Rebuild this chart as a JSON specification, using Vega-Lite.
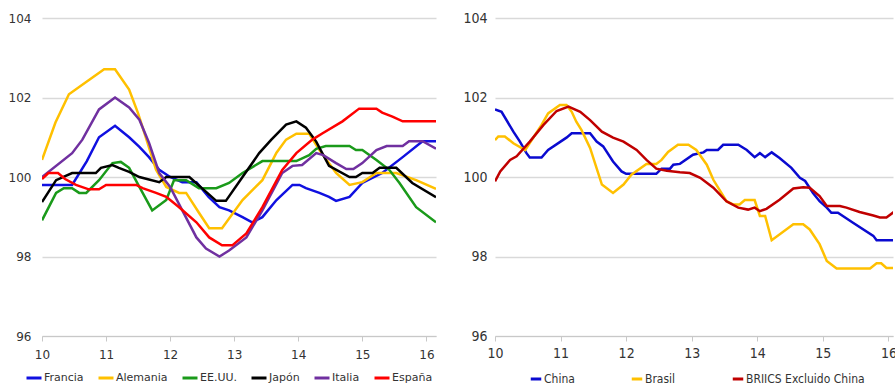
{
  "$schema": "https://vega.github.io/schema/vega-lite/v6.json",
  "background": "white",
  "padding": {"left": 8, "top": 11, "right": 0, "bottom": 0},
  "config": {
    "view": {"stroke": null},
    "axis": {"labelColor": "#333333", "title": null},
    "legend": {"padding": 0, "title": null}
  },
  "datasets": {
    "left": [
      {"t":10,"v":99.8,"s":"Francia"},{"t":10.47,"v":99.8,"s":"Francia"},{"t":10.7,"v":100.4,"s":"Francia"},{"t":10.89,"v":101.0,"s":"Francia"},{"t":11.14,"v":101.29,"s":"Francia"},{"t":11.36,"v":101.0,"s":"Francia"},{"t":11.52,"v":100.76,"s":"Francia"},{"t":11.67,"v":100.5,"s":"Francia"},{"t":11.83,"v":100.18,"s":"Francia"},{"t":12.0,"v":100.0,"s":"Francia"},{"t":12.19,"v":99.87,"s":"Francia"},{"t":12.41,"v":99.87,"s":"Francia"},{"t":12.6,"v":99.5,"s":"Francia"},{"t":12.77,"v":99.24,"s":"Francia"},{"t":12.92,"v":99.16,"s":"Francia"},{"t":13.13,"v":98.99,"s":"Francia"},{"t":13.28,"v":98.86,"s":"Francia"},{"t":13.44,"v":98.99,"s":"Francia"},{"t":13.66,"v":99.42,"s":"Francia"},{"t":13.91,"v":99.8,"s":"Francia"},{"t":14.02,"v":99.8,"s":"Francia"},{"t":14.12,"v":99.72,"s":"Francia"},{"t":14.33,"v":99.6,"s":"Francia"},{"t":14.48,"v":99.5,"s":"Francia"},{"t":14.59,"v":99.4,"s":"Francia"},{"t":14.8,"v":99.5,"s":"Francia"},{"t":15.0,"v":99.85,"s":"Francia"},{"t":15.31,"v":100.1,"s":"Francia"},{"t":15.63,"v":100.5,"s":"Francia"},{"t":15.94,"v":100.9,"s":"Francia"},{"t":16.15,"v":100.9,"s":"Francia"},
      {"t":10,"v":100.43,"s":"Alemania"},{"t":10.21,"v":101.37,"s":"Alemania"},{"t":10.42,"v":102.08,"s":"Alemania"},{"t":10.7,"v":102.4,"s":"Alemania"},{"t":10.97,"v":102.71,"s":"Alemania"},{"t":11.14,"v":102.71,"s":"Alemania"},{"t":11.36,"v":102.2,"s":"Alemania"},{"t":11.5,"v":101.6,"s":"Alemania"},{"t":11.62,"v":101.0,"s":"Alemania"},{"t":11.78,"v":100.18,"s":"Alemania"},{"t":11.94,"v":99.75,"s":"Alemania"},{"t":12.14,"v":99.6,"s":"Alemania"},{"t":12.25,"v":99.6,"s":"Alemania"},{"t":12.45,"v":99.1,"s":"Alemania"},{"t":12.61,"v":98.71,"s":"Alemania"},{"t":12.81,"v":98.71,"s":"Alemania"},{"t":13.13,"v":99.42,"s":"Alemania"},{"t":13.44,"v":99.92,"s":"Alemania"},{"t":13.66,"v":100.61,"s":"Alemania"},{"t":13.81,"v":100.94,"s":"Alemania"},{"t":13.97,"v":101.09,"s":"Alemania"},{"t":14.17,"v":101.09,"s":"Alemania"},{"t":14.33,"v":100.68,"s":"Alemania"},{"t":14.59,"v":100.1,"s":"Alemania"},{"t":14.8,"v":99.8,"s":"Alemania"},{"t":15.0,"v":99.87,"s":"Alemania"},{"t":15.22,"v":100.1,"s":"Alemania"},{"t":15.53,"v":100.1,"s":"Alemania"},{"t":15.84,"v":99.92,"s":"Alemania"},{"t":16.15,"v":99.7,"s":"Alemania"},
      {"t":10,"v":98.91,"s":"EE.UU."},{"t":10.22,"v":99.6,"s":"EE.UU."},{"t":10.34,"v":99.72,"s":"EE.UU."},{"t":10.47,"v":99.72,"s":"EE.UU."},{"t":10.58,"v":99.6,"s":"EE.UU."},{"t":10.69,"v":99.6,"s":"EE.UU."},{"t":10.89,"v":99.92,"s":"EE.UU."},{"t":11.1,"v":100.35,"s":"EE.UU."},{"t":11.23,"v":100.38,"s":"EE.UU."},{"t":11.36,"v":100.23,"s":"EE.UU."},{"t":11.52,"v":99.75,"s":"EE.UU."},{"t":11.72,"v":99.16,"s":"EE.UU."},{"t":11.94,"v":99.42,"s":"EE.UU."},{"t":12.06,"v":99.92,"s":"EE.UU."},{"t":12.25,"v":99.92,"s":"EE.UU."},{"t":12.45,"v":99.72,"s":"EE.UU."},{"t":12.72,"v":99.72,"s":"EE.UU."},{"t":12.92,"v":99.85,"s":"EE.UU."},{"t":13.13,"v":100.1,"s":"EE.UU."},{"t":13.44,"v":100.4,"s":"EE.UU."},{"t":13.97,"v":100.4,"s":"EE.UU."},{"t":14.17,"v":100.55,"s":"EE.UU."},{"t":14.28,"v":100.71,"s":"EE.UU."},{"t":14.43,"v":100.78,"s":"EE.UU."},{"t":14.8,"v":100.78,"s":"EE.UU."},{"t":14.9,"v":100.68,"s":"EE.UU."},{"t":15.0,"v":100.68,"s":"EE.UU."},{"t":15.22,"v":100.43,"s":"EE.UU."},{"t":15.42,"v":100.18,"s":"EE.UU."},{"t":15.58,"v":99.85,"s":"EE.UU."},{"t":15.84,"v":99.24,"s":"EE.UU."},{"t":16.15,"v":98.86,"s":"EE.UU."},
      {"t":10,"v":99.37,"s":"Japón"},{"t":10.22,"v":99.92,"s":"Japón"},{"t":10.47,"v":100.1,"s":"Japón"},{"t":10.84,"v":100.1,"s":"Japón"},{"t":10.92,"v":100.23,"s":"Japón"},{"t":11.1,"v":100.3,"s":"Japón"},{"t":11.2,"v":100.23,"s":"Japón"},{"t":11.36,"v":100.13,"s":"Japón"},{"t":11.52,"v":100.0,"s":"Japón"},{"t":11.83,"v":99.87,"s":"Japón"},{"t":11.94,"v":100.0,"s":"Japón"},{"t":12.3,"v":100.0,"s":"Japón"},{"t":12.72,"v":99.4,"s":"Japón"},{"t":12.87,"v":99.4,"s":"Japón"},{"t":13.13,"v":100.0,"s":"Japón"},{"t":13.39,"v":100.6,"s":"Japón"},{"t":13.58,"v":100.94,"s":"Japón"},{"t":13.81,"v":101.32,"s":"Japón"},{"t":13.97,"v":101.4,"s":"Japón"},{"t":14.12,"v":101.24,"s":"Japón"},{"t":14.28,"v":100.89,"s":"Japón"},{"t":14.48,"v":100.28,"s":"Japón"},{"t":14.8,"v":100.0,"s":"Japón"},{"t":14.9,"v":100.0,"s":"Japón"},{"t":15.0,"v":100.1,"s":"Japón"},{"t":15.16,"v":100.1,"s":"Japón"},{"t":15.27,"v":100.23,"s":"Japón"},{"t":15.53,"v":100.23,"s":"Japón"},{"t":15.78,"v":99.85,"s":"Japón"},{"t":16.15,"v":99.49,"s":"Japón"},
      {"t":10,"v":100.0,"s":"Italia"},{"t":10.47,"v":100.6,"s":"Italia"},{"t":10.63,"v":100.94,"s":"Italia"},{"t":10.89,"v":101.7,"s":"Italia"},{"t":11.14,"v":102.0,"s":"Italia"},{"t":11.36,"v":101.75,"s":"Italia"},{"t":11.52,"v":101.44,"s":"Italia"},{"t":11.67,"v":100.86,"s":"Italia"},{"t":11.83,"v":100.1,"s":"Italia"},{"t":12.0,"v":99.75,"s":"Italia"},{"t":12.19,"v":99.16,"s":"Italia"},{"t":12.41,"v":98.48,"s":"Italia"},{"t":12.56,"v":98.2,"s":"Italia"},{"t":12.77,"v":98.0,"s":"Italia"},{"t":12.92,"v":98.15,"s":"Italia"},{"t":13.19,"v":98.48,"s":"Italia"},{"t":13.44,"v":99.16,"s":"Italia"},{"t":13.75,"v":100.1,"s":"Italia"},{"t":13.91,"v":100.28,"s":"Italia"},{"t":14.06,"v":100.3,"s":"Italia"},{"t":14.28,"v":100.6,"s":"Italia"},{"t":14.39,"v":100.55,"s":"Italia"},{"t":14.59,"v":100.35,"s":"Italia"},{"t":14.75,"v":100.2,"s":"Italia"},{"t":14.86,"v":100.2,"s":"Italia"},{"t":15.0,"v":100.35,"s":"Italia"},{"t":15.22,"v":100.68,"s":"Italia"},{"t":15.38,"v":100.78,"s":"Italia"},{"t":15.63,"v":100.78,"s":"Italia"},{"t":15.73,"v":100.9,"s":"Italia"},{"t":15.94,"v":100.9,"s":"Italia"},{"t":16.15,"v":100.71,"s":"Italia"},
      {"t":10,"v":99.95,"s":"España"},{"t":10.1,"v":100.1,"s":"España"},{"t":10.25,"v":100.1,"s":"España"},{"t":10.36,"v":99.95,"s":"España"},{"t":10.53,"v":99.8,"s":"España"},{"t":10.73,"v":99.69,"s":"España"},{"t":10.89,"v":99.69,"s":"España"},{"t":11.0,"v":99.8,"s":"España"},{"t":11.47,"v":99.8,"s":"España"},{"t":11.57,"v":99.72,"s":"España"},{"t":11.78,"v":99.6,"s":"España"},{"t":11.94,"v":99.5,"s":"España"},{"t":12.14,"v":99.24,"s":"España"},{"t":12.41,"v":98.86,"s":"España"},{"t":12.61,"v":98.48,"s":"España"},{"t":12.81,"v":98.28,"s":"España"},{"t":12.97,"v":98.28,"s":"España"},{"t":13.19,"v":98.58,"s":"España"},{"t":13.44,"v":99.24,"s":"España"},{"t":13.75,"v":100.18,"s":"España"},{"t":13.97,"v":100.6,"s":"España"},{"t":14.22,"v":100.94,"s":"España"},{"t":14.38,"v":101.1,"s":"España"},{"t":14.69,"v":101.4,"s":"España"},{"t":14.95,"v":101.72,"s":"España"},{"t":15.22,"v":101.72,"s":"España"},{"t":15.31,"v":101.62,"s":"España"},{"t":15.47,"v":101.52,"s":"España"},{"t":15.63,"v":101.4,"s":"España"},{"t":16.15,"v":101.4,"s":"España"}
    ],
    "right": [
      {"t":10,"v":101.7,"s":"China"},{"t":10.1,"v":101.64,"s":"China"},{"t":10.28,"v":101.14,"s":"China"},{"t":10.38,"v":100.89,"s":"China"},{"t":10.48,"v":100.6,"s":"China"},{"t":10.53,"v":100.49,"s":"China"},{"t":10.71,"v":100.49,"s":"China"},{"t":10.81,"v":100.68,"s":"China"},{"t":11.09,"v":100.99,"s":"China"},{"t":11.17,"v":101.1,"s":"China"},{"t":11.45,"v":101.1,"s":"China"},{"t":11.55,"v":100.89,"s":"China"},{"t":11.65,"v":100.77,"s":"China"},{"t":11.8,"v":100.39,"s":"China"},{"t":11.93,"v":100.14,"s":"China"},{"t":12.0,"v":100.08,"s":"China"},{"t":12.46,"v":100.08,"s":"China"},{"t":12.54,"v":100.21,"s":"China"},{"t":12.67,"v":100.21,"s":"China"},{"t":12.72,"v":100.31,"s":"China"},{"t":12.82,"v":100.33,"s":"China"},{"t":13.02,"v":100.56,"s":"China"},{"t":13.18,"v":100.62,"s":"China"},{"t":13.23,"v":100.68,"s":"China"},{"t":13.4,"v":100.68,"s":"China"},{"t":13.48,"v":100.81,"s":"China"},{"t":13.71,"v":100.81,"s":"China"},{"t":13.84,"v":100.68,"s":"China"},{"t":13.96,"v":100.5,"s":"China"},{"t":14.04,"v":100.6,"s":"China"},{"t":14.12,"v":100.5,"s":"China"},{"t":14.22,"v":100.62,"s":"China"},{"t":14.34,"v":100.48,"s":"China"},{"t":14.52,"v":100.23,"s":"China"},{"t":14.65,"v":99.98,"s":"China"},{"t":14.73,"v":99.9,"s":"China"},{"t":14.85,"v":99.6,"s":"China"},{"t":14.95,"v":99.39,"s":"China"},{"t":15.06,"v":99.23,"s":"China"},{"t":15.13,"v":99.1,"s":"China"},{"t":15.23,"v":99.1,"s":"China"},{"t":15.46,"v":98.85,"s":"China"},{"t":15.77,"v":98.52,"s":"China"},{"t":15.82,"v":98.41,"s":"China"},{"t":16.1,"v":98.41,"s":"China"},
      {"t":10,"v":100.93,"s":"Brasil"},{"t":10.05,"v":101.02,"s":"Brasil"},{"t":10.15,"v":101.02,"s":"Brasil"},{"t":10.28,"v":100.85,"s":"Brasil"},{"t":10.46,"v":100.68,"s":"Brasil"},{"t":10.58,"v":100.98,"s":"Brasil"},{"t":10.71,"v":101.31,"s":"Brasil"},{"t":10.81,"v":101.6,"s":"Brasil"},{"t":10.99,"v":101.81,"s":"Brasil"},{"t":11.09,"v":101.81,"s":"Brasil"},{"t":11.17,"v":101.64,"s":"Brasil"},{"t":11.24,"v":101.39,"s":"Brasil"},{"t":11.32,"v":101.18,"s":"Brasil"},{"t":11.45,"v":100.73,"s":"Brasil"},{"t":11.63,"v":99.81,"s":"Brasil"},{"t":11.8,"v":99.6,"s":"Brasil"},{"t":11.96,"v":99.81,"s":"Brasil"},{"t":12.08,"v":100.06,"s":"Brasil"},{"t":12.31,"v":100.33,"s":"Brasil"},{"t":12.46,"v":100.33,"s":"Brasil"},{"t":12.54,"v":100.43,"s":"Brasil"},{"t":12.64,"v":100.63,"s":"Brasil"},{"t":12.79,"v":100.81,"s":"Brasil"},{"t":12.95,"v":100.81,"s":"Brasil"},{"t":13.07,"v":100.68,"s":"Brasil"},{"t":13.23,"v":100.31,"s":"Brasil"},{"t":13.33,"v":99.93,"s":"Brasil"},{"t":13.53,"v":99.39,"s":"Brasil"},{"t":13.63,"v":99.31,"s":"Brasil"},{"t":13.73,"v":99.31,"s":"Brasil"},{"t":13.81,"v":99.42,"s":"Brasil"},{"t":13.96,"v":99.42,"s":"Brasil"},{"t":14.04,"v":99.02,"s":"Brasil"},{"t":14.12,"v":99.02,"s":"Brasil"},{"t":14.22,"v":98.41,"s":"Brasil"},{"t":14.55,"v":98.81,"s":"Brasil"},{"t":14.7,"v":98.81,"s":"Brasil"},{"t":14.8,"v":98.68,"s":"Brasil"},{"t":14.95,"v":98.31,"s":"Brasil"},{"t":15.06,"v":97.89,"s":"Brasil"},{"t":15.21,"v":97.7,"s":"Brasil"},{"t":15.72,"v":97.7,"s":"Brasil"},{"t":15.82,"v":97.83,"s":"Brasil"},{"t":15.89,"v":97.83,"s":"Brasil"},{"t":15.97,"v":97.71,"s":"Brasil"},{"t":16.1,"v":97.71,"s":"Brasil"},
      {"t":10,"v":99.89,"s":"BRIICS Excluido China"},{"t":10.08,"v":100.14,"s":"BRIICS Excluido China"},{"t":10.23,"v":100.43,"s":"BRIICS Excluido China"},{"t":10.33,"v":100.52,"s":"BRIICS Excluido China"},{"t":10.53,"v":100.89,"s":"BRIICS Excluido China"},{"t":10.74,"v":101.31,"s":"BRIICS Excluido China"},{"t":10.94,"v":101.66,"s":"BRIICS Excluido China"},{"t":11.12,"v":101.77,"s":"BRIICS Excluido China"},{"t":11.3,"v":101.64,"s":"BRIICS Excluido China"},{"t":11.45,"v":101.43,"s":"BRIICS Excluido China"},{"t":11.63,"v":101.14,"s":"BRIICS Excluido China"},{"t":11.8,"v":100.99,"s":"BRIICS Excluido China"},{"t":11.96,"v":100.89,"s":"BRIICS Excluido China"},{"t":12.16,"v":100.68,"s":"BRIICS Excluido China"},{"t":12.31,"v":100.43,"s":"BRIICS Excluido China"},{"t":12.46,"v":100.21,"s":"BRIICS Excluido China"},{"t":12.62,"v":100.16,"s":"BRIICS Excluido China"},{"t":12.82,"v":100.12,"s":"BRIICS Excluido China"},{"t":12.97,"v":100.1,"s":"BRIICS Excluido China"},{"t":13.13,"v":99.98,"s":"BRIICS Excluido China"},{"t":13.33,"v":99.73,"s":"BRIICS Excluido China"},{"t":13.53,"v":99.39,"s":"BRIICS Excluido China"},{"t":13.71,"v":99.23,"s":"BRIICS Excluido China"},{"t":13.86,"v":99.18,"s":"BRIICS Excluido China"},{"t":13.96,"v":99.23,"s":"BRIICS Excluido China"},{"t":14.04,"v":99.14,"s":"BRIICS Excluido China"},{"t":14.14,"v":99.2,"s":"BRIICS Excluido China"},{"t":14.34,"v":99.43,"s":"BRIICS Excluido China"},{"t":14.55,"v":99.71,"s":"BRIICS Excluido China"},{"t":14.7,"v":99.74,"s":"BRIICS Excluido China"},{"t":14.8,"v":99.73,"s":"BRIICS Excluido China"},{"t":14.95,"v":99.52,"s":"BRIICS Excluido China"},{"t":15.06,"v":99.27,"s":"BRIICS Excluido China"},{"t":15.26,"v":99.27,"s":"BRIICS Excluido China"},{"t":15.36,"v":99.23,"s":"BRIICS Excluido China"},{"t":15.56,"v":99.12,"s":"BRIICS Excluido China"},{"t":15.77,"v":99.03,"s":"BRIICS Excluido China"},{"t":15.87,"v":98.98,"s":"BRIICS Excluido China"},{"t":15.97,"v":98.98,"s":"BRIICS Excluido China"},{"t":16.1,"v":99.14,"s":"BRIICS Excluido China"}
    ]
  },
  "spacing": 26,
  "resolve": {"scale": {"color": "independent", "x": "independent", "y": "independent"}, "legend": {"color": "independent"}},
  "hconcat": [
    {
      "width": 394,
      "height": 318,
      "data": {"name": "left"},
      "mark": {"type": "line", "strokeWidth": 2.5, "clip": true},
      "encoding": {
        "x": {"field": "t", "type": "quantitative",
          "scale": {"domain": [10, 16.15], "nice": false, "zero": false},
          "axis": {"values": [10, 11, 12, 13, 14, 15, 16], "format": "d", "grid": false, "domainColor": "#c8c8c8", "tickColor": "#c8c8c8", "tickSize": 5, "labelFont": "DejaVu Sans", "labelFontSize": 12, "labelPadding": 8, "labelFlush": false}},
        "y": {"field": "v", "type": "quantitative",
          "scale": {"domain": [96, 104], "nice": false, "zero": false},
          "axis": {"values": [96, 98, 100, 102, 104], "domain": false, "ticks": false, "gridColor": "#d9d9d9", "gridWidth": 1.5, "labelFont": "DejaVu Sans", "labelFontSize": 12, "labelPadding": 11}},
        "color": {"field": "s", "type": "nominal",
          "scale": {"domain": ["Francia", "Alemania", "EE.UU.", "Japón", "Italia", "España"], "range": ["#1010e0", "#ffc000", "#1a9a1a", "#000000", "#7030a0", "#ff0000"]},
          "legend": {"orient": "none", "legendX": -17, "legendY": 351, "direction": "horizontal", "symbolType": "stroke", "symbolSize": 225, "symbolStrokeWidth": 3, "labelFont": "DejaVu Sans", "labelFontSize": 11, "labelColor": "#333333", "labelOffset": 1, "columnPadding": 8}}
      }
    },
    {
      "width": 398,
      "height": 318,
      "data": {"name": "right"},
      "mark": {"type": "line", "strokeWidth": 2.5, "clip": true},
      "encoding": {
        "x": {"field": "t", "type": "quantitative",
          "scale": {"domain": [10, 16.07], "nice": false, "zero": false},
          "axis": {"values": [10, 11, 12, 13, 14, 15, 16], "format": "d", "grid": false, "domainColor": "#c8c8c8", "tickColor": "#c8c8c8", "tickSize": 5, "labelFont": "Liberation Sans Narrow, DejaVu Sans Condensed, sans-serif", "labelFontSize": 14, "labelPadding": 5, "labelFlush": false}},
        "y": {"field": "v", "type": "quantitative",
          "scale": {"domain": [96, 104], "nice": false, "zero": false},
          "axis": {"values": [96, 98, 100, 102, 104], "domain": false, "ticks": false, "gridColor": "#d9d9d9", "gridWidth": 1.5, "labelFont": "Liberation Sans Narrow, DejaVu Sans Condensed, sans-serif", "labelFontSize": 14, "labelPadding": 8}},
        "color": {"field": "s", "type": "nominal",
          "scale": {"domain": ["China", "Brasil", "BRIICS Excluido China"], "range": ["#0a0ad0", "#ffc000", "#c00000"]},
          "legend": {"orient": "none", "legendX": 34, "legendY": 354, "direction": "horizontal", "symbolType": "stroke", "symbolSize": 110, "symbolStrokeWidth": 3, "labelFont": "Liberation Sans Narrow, DejaVu Sans Condensed, sans-serif", "labelFontSize": 12, "labelColor": "#333333", "labelOffset": 1, "columnPadding": 50}}
      }
    }
  ]
}
